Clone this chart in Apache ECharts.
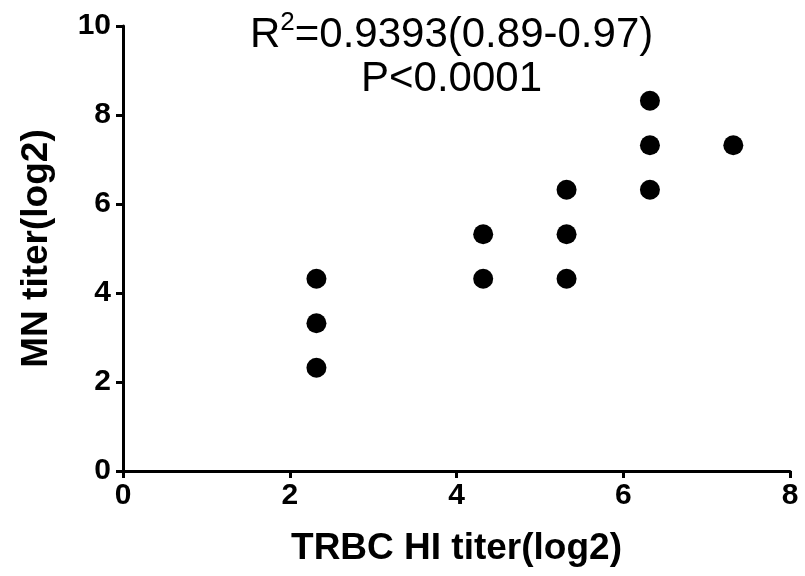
<!DOCTYPE html>
<html>
<head>
<meta charset="utf-8">
<script src="https://cdn.jsdelivr.net/npm/echarts@6/dist/echarts.min.js"></script>
<style>
  html, body { margin: 0; padding: 0; background: #fff; }
  #chart { width: 805px; height: 576px; }
</style>
</head>
<body>
<div id="chart"></div>
<script>
// HI titer (x) and MN titer (y), log2
const hiTiter = [2.32, 2.32, 2.32, 4.32, 4.32, 5.32, 5.32, 5.32, 6.32, 6.32, 6.32, 7.32];
const mnTiter = [4.32, 3.32, 2.32, 5.32, 4.32, 6.32, 5.32, 4.32, 8.32, 7.32, 6.32, 7.32];
const xTicks = [0, 2, 4, 6, 8];
const yTicks = [0, 2, 4, 6, 8, 10];

const points = hiTiter.map((x, i) => [x, mnTiter[i]]);

const chart = echarts.init(document.getElementById("chart"));
const font = "Liberation Sans, Arial, sans-serif";

chart.setOption({
  animation: false,
  grid: { left: 123, right: 15, top: 26, bottom: 105, containLabel: false },
  graphic: [
    {
      type: "text",
      left: 250,
      top: 10,
      style: {
        text: "{a|R}{s|2}{a|=0.9393(0.89-0.97)}",
        rich: {
          a: { fontSize: 42, fontFamily: font, fill: "#000", verticalAlign: "bottom", lineHeight: 46 },
          s: { fontSize: 26, fontFamily: font, fill: "#000", verticalAlign: "top", lineHeight: 46, padding: [0, 0, 18, 0] }
        }
      }
    },
    {
      type: "text",
      left: 361,
      top: 58,
      style: { text: "P<0.0001", fontSize: 42, fontFamily: font, fill: "#000" }
    }
  ],
  xAxis: {
    type: "value",
    min: 0,
    max: 8,
    interval: 2,
    name: "TRBC HI titer(log2)",
    nameLocation: "middle",
    nameGap: 59,
    nameTextStyle: { fontSize: 37, fontWeight: "bold", fontFamily: font, color: "#000" },
    splitLine: { show: false },
    axisLine: { show: true, lineStyle: { color: "#000", width: 3 } },
    axisTick: { show: true, length: 7, lineStyle: { color: "#000", width: 3 } },
    axisLabel: {
      margin: 10,
      fontSize: 30,
      fontWeight: "bold",
      fontFamily: font,
      color: "#000",
      formatter: v => (xTicks.includes(v) ? String(v) : "")
    }
  },
  yAxis: {
    type: "value",
    min: 0,
    max: 10,
    interval: 2,
    name: "MN titer(log2)",
    nameLocation: "middle",
    nameGap: 68,
    nameTextStyle: { fontSize: 37, fontWeight: "bold", fontFamily: font, color: "#000" },
    splitLine: { show: false },
    axisLine: { show: true, lineStyle: { color: "#000", width: 3 } },
    axisTick: { show: true, length: 7, lineStyle: { color: "#000", width: 3 } },
    axisLabel: {
      margin: 12,
      fontSize: 30,
      fontWeight: "bold",
      fontFamily: font,
      color: "#000",
      formatter: v => (yTicks.includes(v) ? String(v) : "")
    }
  },
  series: [
    {
      type: "scatter",
      data: points,
      symbol: "circle",
      symbolSize: 20,
      itemStyle: { color: "#000", opacity: 1 }
    }
  ]
});
</script>
</body>
</html>
